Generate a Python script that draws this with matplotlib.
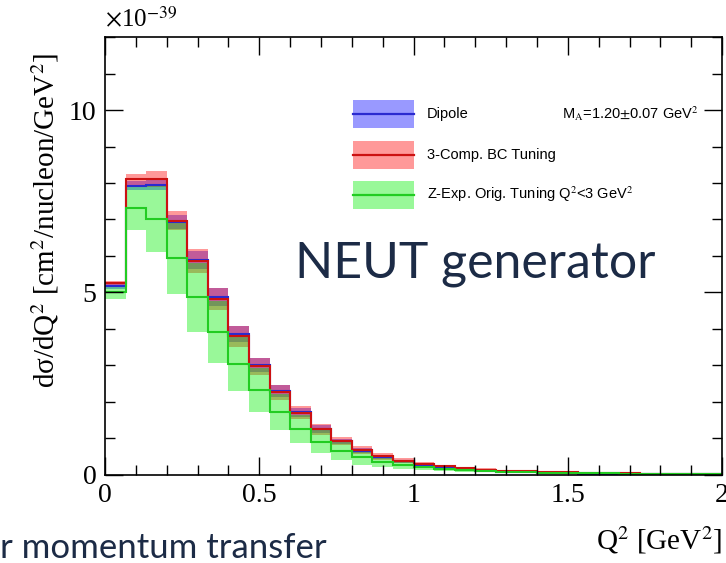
import matplotlib.pyplot as plt
from matplotlib.patches import Rectangle
from matplotlib.lines import Line2D
import numpy as np

plt.rcParams['font.family'] = ['Liberation Serif', 'DejaVu Serif']
plt.rcParams['mathtext.fontset'] = 'stix'

# 30 bins of Q^2 from 0 to 2 GeV^2, values in units of 1e-39 cm^2/nucleon/GeV^2
edges = np.linspace(0, 2, 31)

dipole = [5.18, 7.93, 7.95, 6.93, 5.88, 4.88, 3.87, 3.01, 2.29, 1.71,
          1.25, 0.91, 0.66, 0.48, 0.36, 0.27, 0.20, 0.15, 0.11, 0.085,
          0.065, 0.05, 0.04, 0.03, 0.025, 0.02, 0.015, 0.012, 0.01, 0.008]
dipole_err = [0.08, 0.12, 0.15, 0.20, 0.25, 0.25, 0.22, 0.20, 0.16, 0.13,
              0.10, 0.08, 0.06, 0.045, 0.035, 0.027, 0.02, 0.015, 0.012, 0.009,
              0.007, 0.006, 0.005, 0.004, 0.003, 0.003, 0.002, 0.002, 0.002, 0.001]

bc3 = [5.25, 8.10, 8.10, 6.97, 5.86, 4.82, 3.80, 2.97, 2.26, 1.70,
       1.25, 0.92, 0.68, 0.50, 0.38, 0.30, 0.23, 0.18, 0.14, 0.11,
       0.09, 0.075, 0.06, 0.05, 0.04, 0.035, 0.03, 0.025, 0.02, 0.017]
bc3_err = [0.07, 0.15, 0.22, 0.27, 0.32, 0.30, 0.29, 0.24, 0.21, 0.18,
           0.15, 0.12, 0.11, 0.09, 0.07, 0.055, 0.045, 0.035, 0.03, 0.025,
           0.02, 0.017, 0.015, 0.013, 0.011, 0.01, 0.009, 0.008, 0.007, 0.006]

zexp = [5.00, 7.31, 7.02, 5.93, 4.86, 3.91, 3.04, 2.32, 1.71, 1.25,
        0.90, 0.65, 0.47, 0.35, 0.27, 0.21, 0.16, 0.12, 0.10, 0.08,
        0.065, 0.055, 0.045, 0.04, 0.035, 0.03, 0.025, 0.022, 0.02, 0.018]
zexp_err = [0.17, 0.60, 0.90, 0.97, 0.94, 0.85, 0.74, 0.61, 0.50, 0.39,
            0.31, 0.25, 0.20, 0.15, 0.12, 0.09, 0.07, 0.05, 0.04, 0.03,
            0.025, 0.02, 0.017, 0.015, 0.013, 0.011, 0.01, 0.009, 0.008, 0.007]

series = [
    (dipole, dipole_err, '#0000ff', '#2a2ad0', 'Dipole'),
    (bc3, bc3_err, '#ff0000', '#cc1111', '3-Comp. BC Tuning'),
    (zexp, zexp_err, '#00ee00', '#22cc22', 'Z-Exp. Orig. Tuning Q$^{2}$<3 GeV$^{2}$'),
]

fig = plt.figure(figsize=(7.26, 5.63), dpi=100)
ax = fig.add_axes([0.1446, 0.157, 0.85, 0.777])

for val, err, fc, lc, lab in series:
    val = np.array(val)
    err = np.array(err)
    ax.stairs(val + err, edges, baseline=val - err, fill=True,
              color=fc, alpha=0.4, lw=0)
for val, err, fc, lc, lab in series:
    ax.stairs(val, edges, baseline=None, color=lc, lw=1.5)

ax.set_xlim(0, 2)
ax.set_ylim(0, 12)
ax.set_xticks([0, 0.5, 1, 1.5, 2])
ax.set_xticklabels(['0', '0.5', '1', '1.5', '2'])
ax.set_xticks(np.arange(0, 2.01, 0.1), minor=True)
ax.set_yticks([0, 5, 10])
ax.set_yticks(np.arange(0, 12.1, 1), minor=True)
ax.tick_params(which='both', direction='in', top=True, right=True, labelsize=20, width=1)
ax.tick_params(which='major', length=13, pad=6)
ax.tick_params(which='minor', length=7)
for s in ax.spines.values():
    s.set_linewidth(1.2)

# legend
ys = [0.825, 0.730, 0.640]
for (val, err, fc, lc, lab), y in zip(series, ys):
    ax.add_patch(Rectangle((0.402, y - 0.032), 0.099, 0.064, transform=ax.transAxes,
                           facecolor=fc, alpha=0.4, lw=0))
    ax.add_line(Line2D([0.402, 0.501], [y, y], transform=ax.transAxes, color=lc, lw=1.6))
    ax.text(0.522, y, lab, transform=ax.transAxes, fontsize=10.5, va='center',
            family=['Liberation Sans', 'DejaVu Sans'])
ax.text(0.740, 0.825, r'M$_{\rm A}$=1.20$\pm$0.07 GeV$^{2}$', transform=ax.transAxes,
        fontsize=10.5, va='center', family=['Liberation Sans', 'DejaVu Sans'])

ax.text(0.308, 0.451, 'NEUT generator', transform=ax.transAxes, fontsize=36,
        color='#1c2b46', family=['Lato', 'DejaVu Sans'], va='baseline')

fig.text(0.145, 0.965, r'$\times$10$^{-39}$', fontsize=18, va='center', ha='left')
fig.text(0.062, 0.609, r'dσ/dQ$^{2}$ [cm$^{2}$/nucleon/GeV$^{2}$]', fontsize=21,
         rotation=90, va='center', ha='center')
fig.text(0.995, 0.04, r'Q$^{2}$ [GeV$^{2}$]', fontsize=21, ha='right', va='center')
fig.text(0.0, 0.027, 'r momentum transfer', fontsize=25, color='#1c2b46',
         family=['Lato', 'DejaVu Sans'], va='center', ha='left')

fig.savefig('out.png', dpi=100)
